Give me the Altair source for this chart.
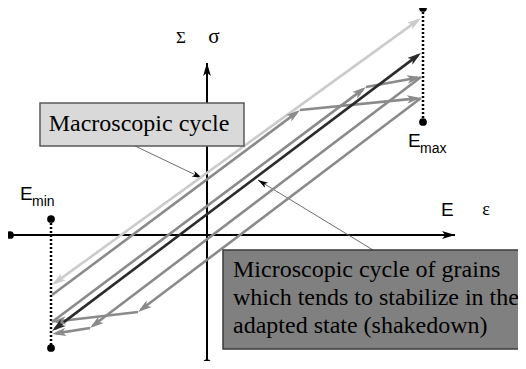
import altair as alt
import pandas as pd
import numpy as np

# ---------------- data (image-space units: px from window top-left) ----------------
# strain limits of the cycle
E_MIN = 52
E_MAX = 421

# stress-strain path segments of the schematic
seg_kind = ["macro", "micro", "micro", "micro", "micro", "micro", "micro", "micro", "micro", "stable"]
seg_x1 = [E_MIN, E_MIN, 300, E_MAX, 138, E_MIN, 366, E_MAX, 90, E_MIN]
seg_y1 = [285, 295, 110, 98, 312, 322, 87, 77, 328, 331]
seg_x2 = [E_MAX, 300, E_MAX, 138, E_MIN, 366, E_MAX, 90, E_MIN, E_MAX]
seg_y2 = [18, 110, 98, 312, 322, 87, 77, 328, 334, 53]
seg_arrow_start = [True, False, False, False, False, False, False, False, False, True]
seg_arrow_end = [True, True, True, True, True, True, True, True, True, True]

kind_domain = ["macro", "micro", "stable"]

# coordinate axes (E/Σ horizontal, ε/σ vertical)
axis_x1 = [10, 207]
axis_y1 = [235, 363]
axis_x2 = [455, 207]
axis_y2 = [235, 63]

# dotted strain limits
lim_x = [423, 51]
lim_y1 = [8, 219]
lim_y2 = [122, 348]

# end dots
dot_x = [10, 207, 423, 423, 51, 51]
dot_y = [235, 363, 8, 122, 219, 348]

# call-out pointers (from box to curve)
ptr_x1 = [135, 373]
ptr_y1 = [146, 250]
ptr_x2 = [202, 258]
ptr_y2 = [178, 180]

# boxes
box_x1 = [40, 223]
box_x2 = [244, 524]
box_y1 = [103, 250]
box_y2 = [146, 349]
box_name = ["macro", "micro"]

macro_text = ["Macroscopic cycle"]
micro_lines = ["Microscopic cycle of grains",
               "which tends to stabilize in the",
               "adapted state (shakedown)"]

SERIF = "Liberation Serif, Times New Roman, serif"
SANS = "Liberation Sans, Arial, sans-serif"

# ---------------- helpers ----------------
W, H = 510, 353
xs = alt.Scale(domain=[8, 8 + W], nice=False, zero=False)
ys = alt.Scale(domain=[8, 8 + H], nice=False, zero=False, reverse=True)


def X(f="x"):
    return alt.X(f, type="quantitative", scale=xs, axis=None)


def Y(f="y"):
    return alt.Y(f, type="quantitative", scale=ys, axis=None)


ARROW = "M0,-1L0.6,1L0,0.5L-0.6,1Z"


def arrow_rows(x1, y1, x2, y2, at_end, at_start, extra, half):
    rows = []
    for i in range(len(x1)):
        ends = []
        if at_end[i]:
            ends.append((x2[i], y2[i], x2[i] - x1[i], y2[i] - y1[i]))
        if at_start[i]:
            ends.append((x1[i], y1[i], x1[i] - x2[i], y1[i] - y2[i]))
        for tx, ty, dx, dy in ends:
            n = np.hypot(dx, dy)
            ux, uy = dx / n, dy / n
            ang = float(np.degrees(np.arctan2(dx, -dy)) % 360)
            r = {"x": tx - ux * half, "y": ty - uy * half, "angle": ang}
            r.update({k: v[i] for k, v in extra.items()})
            rows.append(r)
    return pd.DataFrame(rows)


def trimmed(x1, y1, x2, y2, at_end, at_start, d):
    out = []
    for i in range(len(x1)):
        dx, dy = x2[i] - x1[i], y2[i] - y1[i]
        n = np.hypot(dx, dy)
        ux, uy = dx / n, dy / n
        a = d if at_start[i] else 0
        b = d if at_end[i] else 0
        out.append((x1[i] + ux * a, y1[i] + uy * a, x2[i] - ux * b, y2[i] - uy * b))
    return out


color_scale = alt.Scale(domain=kind_domain, range=["#cbcbcb", "#8a8a8a", "#2b2b2b"])

# cycle segments
tr = trimmed(seg_x1, seg_y1, seg_x2, seg_y2, seg_arrow_end, seg_arrow_start, 4)
seg_df = pd.DataFrame({
    "kind": seg_kind,
    "order": list(range(len(seg_kind))),
    "x": [t[0] for t in tr], "y": [t[1] for t in tr],
    "x2": [t[2] for t in tr], "y2": [t[3] for t in tr],
})
seg_layer = alt.Chart(seg_df).mark_rule(strokeWidth=2.6).encode(
    x=X(), y=Y(), x2="x2", y2="y2",
    color=alt.Color("kind:N", scale=color_scale, legend=None),
    order="order:Q",
)
seg_arrows = arrow_rows(seg_x1, seg_y1, seg_x2, seg_y2, seg_arrow_end, seg_arrow_start,
                        {"kind": seg_kind}, 7)
seg_arrow_layer = alt.Chart(seg_arrows).mark_point(
    shape=ARROW, filled=True, size=196, opacity=1, strokeWidth=0).encode(
    x=X(), y=Y(), angle=alt.Angle("angle:Q", scale=None),
    color=alt.Color("kind:N", scale=color_scale, legend=None),
)

# axes
ax_df = pd.DataFrame({"x": axis_x1, "y": axis_y1, "x2": axis_x2, "y2": axis_y2})
ax_layer = alt.Chart(ax_df).mark_rule(strokeWidth=2, color="black").encode(
    x=X(), y=Y(), x2="x2", y2="y2")
ax_arrows = arrow_rows(axis_x1, axis_y1, axis_x2, axis_y2, [True, True], [False, False], {}, 6.5)
ax_arrow_layer = alt.Chart(ax_arrows).mark_point(
    shape=ARROW, filled=True, size=169, color="black", opacity=1, strokeWidth=0).encode(
    x=X(), y=Y(), angle=alt.Angle("angle:Q", scale=None))

# dotted limits
lim_df = pd.DataFrame({"x": lim_x, "y": lim_y1, "y2": lim_y2})
lim_layer = alt.Chart(lim_df).mark_rule(strokeWidth=2.5, color="black", strokeDash=[2, 2]).encode(
    x=X(), y=Y(), y2="y2")

dot_df = pd.DataFrame({"x": dot_x, "y": dot_y})
dot_layer = alt.Chart(dot_df).mark_point(shape="circle", filled=True, size=60,
                                         color="black", opacity=1).encode(x=X(), y=Y())

# pointers
ptr_df = pd.DataFrame({"x": ptr_x1, "y": ptr_y1, "x2": ptr_x2, "y2": ptr_y2})
ptr_layer = alt.Chart(ptr_df).mark_rule(strokeWidth=1, color="#6e6e6e").encode(
    x=X(), y=Y(), x2="x2", y2="y2")
ptr_arrows = arrow_rows(ptr_x1, ptr_y1, ptr_x2, ptr_y2, [True, True], [False, False], {}, 5)
ptr_arrow_layer = alt.Chart(ptr_arrows).mark_point(
    shape=ARROW, filled=True, size=100, color="black", opacity=1, strokeWidth=0).encode(
    x=X(), y=Y(), angle=alt.Angle("angle:Q", scale=None))

# boxes
box_df = pd.DataFrame({"name": box_name, "x": box_x1, "x2": box_x2, "y": box_y1, "y2": box_y2})
box_layer = alt.Chart(box_df).mark_rect(strokeWidth=1.5).encode(
    x=X(), y=Y(), x2="x2", y2="y2",
    fill=alt.Fill("name:N", scale=alt.Scale(domain=box_name, range=["#d9d9d9", "#808080"]), legend=None),
    stroke=alt.Stroke("name:N", scale=alt.Scale(domain=box_name, range=["#595959", "#3a3a3a"]), legend=None),
)

# texts
macro_df = pd.DataFrame({"t": macro_text, "x": [139], "y": [131]})
macro_txt = alt.Chart(macro_df).mark_text(font=SERIF, fontSize=24, color="black",
                                          align="center", baseline="alphabetic").encode(
    x=X(), y=Y(), text="t:N")

micro_df = pd.DataFrame({"t": micro_lines, "x": [233] * 3, "y": [277, 305, 333]})
micro_txt = alt.Chart(micro_df).mark_text(font=SERIF, fontSize=24, color="black",
                                          align="left", baseline="alphabetic").encode(
    x=X(), y=Y(), text="t:N")

serif_lbl = pd.DataFrame({"t": ["Σ", "σ", "ε"], "x": [181, 214, 486], "y": [43, 43, 215],
                          "s": [17, 21, 18]})
serif_layer = alt.Chart(serif_lbl).mark_text(font=SERIF, color="black",
                                             align="center", baseline="alphabetic").encode(
    x=X(), y=Y(), text="t:N", size=alt.Size("s:Q", scale=None))

sans_big = pd.DataFrame({"t": ["E", "E", "E"], "x": [441, 408, 20], "y": [216, 147, 200]})
sans_big_layer = alt.Chart(sans_big).mark_text(font=SANS, fontSize=19, color="black",
                                               align="left", baseline="alphabetic").encode(
    x=X(), y=Y(), text="t:N")
sans_sub = pd.DataFrame({"t": ["max", "min"], "x": [420, 32], "y": [153, 206]})
sans_sub_layer = alt.Chart(sans_sub).mark_text(font=SANS, fontSize=14, color="black",
                                               align="left", baseline="alphabetic").encode(
    x=X(), y=Y(), text="t:N")

chart = alt.layer(
    ax_layer, lim_layer, ptr_layer, ptr_arrow_layer, seg_layer, seg_arrow_layer,
    box_layer, macro_txt, micro_txt, serif_layer, sans_big_layer, sans_sub_layer,
    dot_layer, ax_arrow_layer,
).resolve_scale(color="independent").properties(
    width=W, height=H, padding=0, autosize=alt.AutoSizeParams(type="none"),
    background="white",
).configure_view(stroke=None)

chart.save("out.html", embed_options={"renderer": "svg", "actions": False})
